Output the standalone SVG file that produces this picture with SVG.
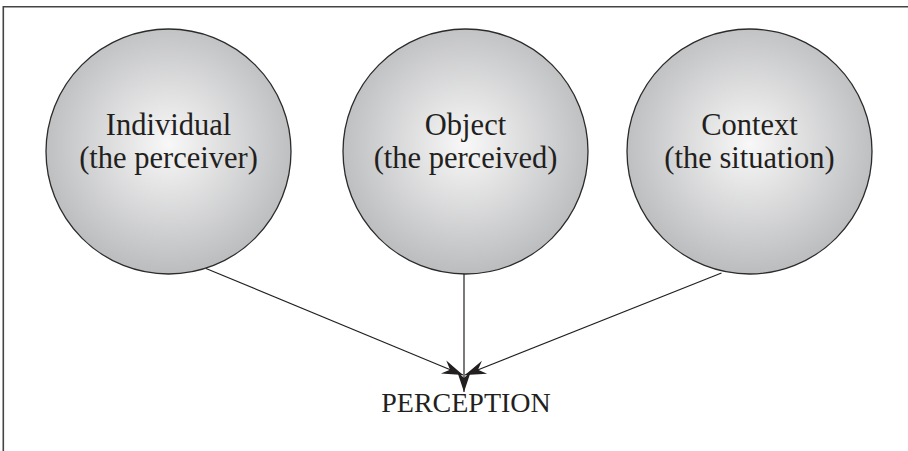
<svg xmlns="http://www.w3.org/2000/svg" width="908" height="451" viewBox="0 0 908 451">
  <defs>
    <radialGradient id="ballFill" cx="0.5" cy="0.47" r="0.55">
      <stop offset="0" stop-color="#f8f8f8"/>
      <stop offset="1" stop-color="#b9babc"/>
    </radialGradient>
    <marker id="arrow" markerUnits="userSpaceOnUse" markerWidth="24" markerHeight="16" viewBox="-22 -8 24 16" refX="0" refY="0" orient="auto">
      <path d="M0,0 L-21,-7 L-14,0 L-21,7 Z" fill="#231f20"/>
    </marker>
  </defs>
  <style>
    .ball { fill: url(#ballFill); stroke: #2b2b2b; stroke-width: 1.3; }
    .lbl { font-family: "Liberation Serif", "Times New Roman", serif; font-size: 30.5px; fill: #231f20; text-anchor: middle; }
    .conn { stroke: #231f20; stroke-width: 1.2; fill: none; marker-end: url(#arrow); }
    .frame { stroke: #444; stroke-width: 1.6; fill: none; }
  </style>
  <rect width="908" height="451" fill="#ffffff"/>
  <path class="frame" d="M3.3,451 V6.7 H908"/>
  <g id="individual">
    <circle class="ball" cx="168.5" cy="151.5" r="122.5"/>
    <text class="lbl" x="168.5" y="135">Individual</text>
    <text class="lbl" x="168.5" y="168">(the perceiver)</text>
  </g>
  <g id="object">
    <circle class="ball" cx="465.5" cy="151.5" r="122.5"/>
    <text class="lbl" x="465.5" y="135">Object</text>
    <text class="lbl" x="465.5" y="168">(the perceived)</text>
  </g>
  <g id="context">
    <circle class="ball" cx="749.5" cy="151.5" r="122.5"/>
    <text class="lbl" x="749.5" y="135">Context</text>
    <text class="lbl" x="749.5" y="168">(the situation)</text>
  </g>
  <g id="connectors">
    <line class="conn" x1="206" y1="268.5" x2="463" y2="375"/>
    <line class="conn" x1="464" y1="274" x2="464" y2="392"/>
    <line class="conn" x1="721.5" y1="273" x2="465" y2="375"/>
  </g>
  <g id="perception">
    <text class="lbl" x="466" y="412" style="font-size:28px">PERCEPTION</text>
  </g>
</svg>
